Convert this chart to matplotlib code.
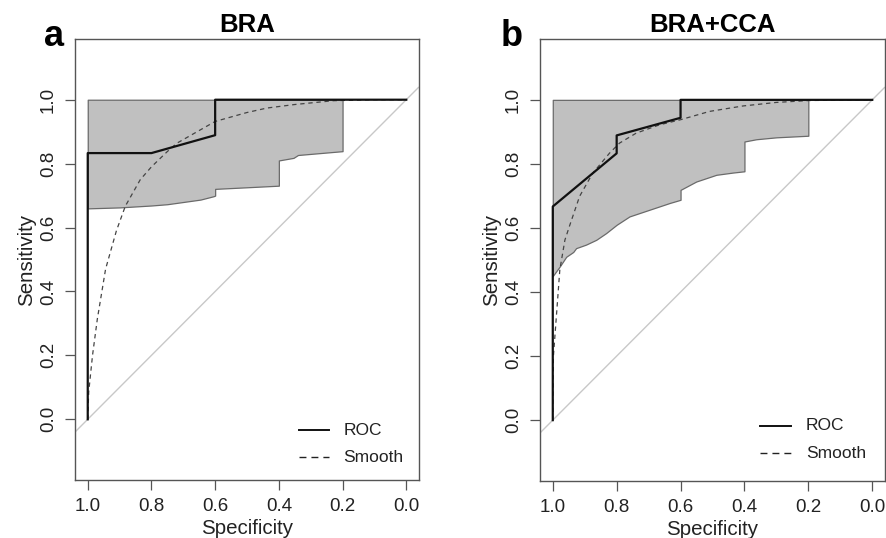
import matplotlib
matplotlib.use("Agg")
import matplotlib.pyplot as plt

plt.rcParams['font.family'] = ['Liberation Sans', 'DejaVu Sans']

# ---------------- data ----------------
titles = ["BRA", "BRA+CCA"]
panel_letters = ["a", "b"]
tick_vals = [1.0, 0.8, 0.6, 0.4, 0.2, 0.0]
tick_labels = ["1.0", "0.8", "0.6", "0.4", "0.2", "0.0"]
legend_labels = ["ROC", "Smooth"]

# Panel a (BRA)
roc_a_spec = [1.0, 1.0, 0.8, 0.6, 0.6, 0.0]
roc_a_sens = [0.0, 0.833, 0.833, 0.889, 1.0, 1.0]
smooth_a_spec = [1.0, 0.997, 0.985, 0.97, 0.944, 0.91, 0.882, 0.835, 0.8, 0.75, 0.72,
                 0.6, 0.5, 0.437, 0.35, 0.228, 0.1, 0.0]
smooth_a_sens = [0.0, 0.085, 0.2, 0.313, 0.47, 0.59, 0.667, 0.75, 0.79, 0.838, 0.864,
                 0.932, 0.96, 0.974, 0.985, 0.997, 1.0, 1.0]
ci_a_spec = [1.0, 0.9, 0.8, 0.75, 0.646, 0.605, 0.6, 0.6, 0.4, 0.4, 0.354, 0.34, 0.2, 0.2]
ci_a_lower = [0.66, 0.663, 0.669, 0.673, 0.6875, 0.698, 0.70, 0.721, 0.731, 0.810,
              0.818, 0.827, 0.839, 1.0]

# Panel b (BRA+CCA)
roc_b_spec = [1.0, 1.0, 0.8, 0.8, 0.6, 0.6, 0.0]
roc_b_sens = [0.0, 0.667, 0.833, 0.889, 0.944, 1.0, 1.0]
smooth_b_spec = [1.0, 0.998, 0.9865, 0.978, 0.962, 0.948, 0.916, 0.875, 0.822, 0.791,
                 0.739, 0.666, 0.6, 0.509, 0.404, 0.3, 0.196, 0.0]
smooth_b_sens = [0.0, 0.2, 0.354, 0.469, 0.5625, 0.605, 0.699, 0.771, 0.834, 0.865,
                 0.896, 0.922, 0.938, 0.964, 0.981, 0.992, 0.998, 1.0]
ci_b_spec = [1.0, 0.978, 0.958, 0.936, 0.927, 0.896, 0.864, 0.833, 0.8, 0.76, 0.697,
             0.634, 0.6, 0.6, 0.551, 0.488, 0.436, 0.4, 0.4, 0.363, 0.3, 0.2, 0.2]
ci_b_lower = [0.45, 0.48, 0.51, 0.525, 0.537, 0.548, 0.563, 0.584, 0.61, 0.636, 0.657,
              0.678, 0.688, 0.719, 0.745, 0.766, 0.773, 0.777, 0.870, 0.877, 0.883,
              0.888, 1.0]

panels = [
    dict(roc=(roc_a_spec, roc_a_sens), smooth=(smooth_a_spec, smooth_a_sens),
         ci=(ci_a_spec, ci_a_lower), leg=(0.336, 0.242, 0.198, -0.034, -0.119)),
    dict(roc=(roc_b_spec, roc_b_sens), smooth=(smooth_b_spec, smooth_b_sens),
         ci=(ci_b_spec, ci_b_lower), leg=(0.352, 0.253, 0.207, -0.018, -0.104)),
]

# ---------------- figure ----------------
W, H = 886, 538
fig = plt.figure(figsize=(W / 100, H / 100), dpi=100)

boxes = [(75, 39, 419, 480), (540, 39, 885, 481)]
letter_pos = [(44, 45.7), (501, 45.7)]
box_col = '#555555'

for i, (p, (l, t, r, b)) in enumerate(zip(panels, boxes)):
    ax = fig.add_axes([l / W, (H - b) / H, (r - l) / W, (b - t) / H])
    ax.set_xlim(1.04, -0.04)
    ax.set_ylim(-0.19, 1.19)

    # CI shape
    cs, cl = p['ci']
    ax.fill_between(cs, cl, [1.0] * len(cs), facecolor='#c0c0c0',
                    edgecolor='#6a6a6a', linewidth=0.9, zorder=1)
    # diagonal
    ax.plot([1.04, -0.04], [-0.04, 1.04], color='#c8c8c8', lw=1.0, zorder=2,
            solid_capstyle='butt')
    # smooth
    ax.plot(*p['smooth'], color='#444444', lw=0.9, ls=(0, (3.5, 3)), zorder=3)
    # ROC
    ax.plot(*p['roc'], color='#111111', lw=1.6, zorder=4)

    # legend
    x1, x2, xt, y1, y2 = p['leg']
    ax.plot([x1, x2], [y1, y1], color='#111111', lw=1.4)
    ax.plot([x1, x2], [y2, y2], color='#222222', lw=1.0, ls=(0, (5, 3.6)))
    ax.text(xt, y1, legend_labels[0], fontsize=12.5, va='center', ha='left', color='#222222')
    ax.text(xt, y2, legend_labels[1], fontsize=12.5, va='center', ha='left', color='#222222')

    ax.set_xticks(tick_vals)
    ax.set_xticklabels(tick_labels, fontsize=13.5, color='#222222')
    ax.set_yticks(tick_vals[::-1])
    ax.set_yticklabels(tick_labels[::-1], fontsize=13.5, rotation=90, va='center',
                       color='#222222')
    ax.tick_params(direction='out', length=7, width=0.9, color=box_col, pad=6)
    for s in ax.spines.values():
        s.set_color(box_col)
        s.set_linewidth(1.0)
    ax.set_xlabel("Specificity", fontsize=14.8, labelpad=3, color='#222222')
    ax.set_ylabel("Sensitivity", fontsize=14.8, labelpad=3, color='#222222')

    fig.text(((l + r) / 2) / W, 1 - 32 / H, titles[i], fontsize=18.5,
             fontweight='bold', ha='center', va='baseline')
    lx, ly = letter_pos[i]
    fig.text(lx / W, 1 - ly / H, panel_letters[i], fontsize=26, fontweight='bold',
             ha='left', va='baseline')

fig.savefig("out.png", dpi=100)
